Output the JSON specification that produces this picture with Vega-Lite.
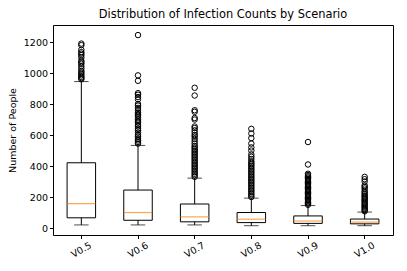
{
  "$schema": "https://vega.github.io/schema/vega-lite/v6.json",
  "autosize": {"type": "none"},
  "padding": {"left": 53, "top": 25, "right": 14, "bottom": 36},
  "width": 340,
  "height": 210,
  "title": {"text": "Distribution of Infection Counts by Scenario", "font": "DejaVu Sans", "fontSize": 11.4, "fontWeight": "normal", "color": "black", "offset": 5},
  "config": {
    "view": {"stroke": "black", "strokeWidth": 1},
    "axis": {"labelFont": "DejaVu Sans", "titleFont": "DejaVu Sans", "labelFontSize": 9.5, "titleFontSize": 9.5, "titleFontWeight": "normal", "labelColor": "black", "titleColor": "black", "domainColor": "black", "tickColor": "black", "tickSize": 3.5, "grid": false, "labelOverlap": false}
  },
  "datasets": {
    "boxes": [
      {"scenario": "V0.5", "low": 20, "q1": 66, "median": 157, "q3": 421, "high": 945},
      {"scenario": "V0.6", "low": 20, "q1": 50, "median": 100, "q3": 245, "high": 533},
      {"scenario": "V0.7", "low": 20, "q1": 40, "median": 72, "q3": 155, "high": 322},
      {"scenario": "V0.8", "low": 15, "q1": 35, "median": 57, "q3": 100, "high": 193},
      {"scenario": "V0.9", "low": 15, "q1": 30, "median": 45, "q3": 78, "high": 145},
      {"scenario": "V1.0", "low": 15, "q1": 27, "median": 38, "q3": 58, "high": 103}
    ],
    "outliers": [
      {"scenario": "V0.5", "value": 960}, {"scenario": "V0.5", "value": 968}, {"scenario": "V0.5", "value": 975}, {"scenario": "V0.5", "value": 985}, {"scenario": "V0.5", "value": 995}, {"scenario": "V0.5", "value": 1005}, {"scenario": "V0.5", "value": 1015}, {"scenario": "V0.5", "value": 1030}, {"scenario": "V0.5", "value": 1045}, {"scenario": "V0.5", "value": 1060}, {"scenario": "V0.5", "value": 1070}, {"scenario": "V0.5", "value": 1080}, {"scenario": "V0.5", "value": 1100}, {"scenario": "V0.5", "value": 1115}, {"scenario": "V0.5", "value": 1125}, {"scenario": "V0.5", "value": 1135}, {"scenario": "V0.5", "value": 1150}, {"scenario": "V0.5", "value": 1180}, {"scenario": "V0.5", "value": 1190},
      {"scenario": "V0.6", "value": 545}, {"scenario": "V0.6", "value": 555}, {"scenario": "V0.6", "value": 565}, {"scenario": "V0.6", "value": 575}, {"scenario": "V0.6", "value": 590}, {"scenario": "V0.6", "value": 600}, {"scenario": "V0.6", "value": 615}, {"scenario": "V0.6", "value": 630}, {"scenario": "V0.6", "value": 640}, {"scenario": "V0.6", "value": 655}, {"scenario": "V0.6", "value": 665}, {"scenario": "V0.6", "value": 680}, {"scenario": "V0.6", "value": 690}, {"scenario": "V0.6", "value": 700}, {"scenario": "V0.6", "value": 715}, {"scenario": "V0.6", "value": 725}, {"scenario": "V0.6", "value": 735}, {"scenario": "V0.6", "value": 745}, {"scenario": "V0.6", "value": 760}, {"scenario": "V0.6", "value": 775}, {"scenario": "V0.6", "value": 790}, {"scenario": "V0.6", "value": 800}, {"scenario": "V0.6", "value": 830}, {"scenario": "V0.6", "value": 845}, {"scenario": "V0.6", "value": 860}, {"scenario": "V0.6", "value": 870}, {"scenario": "V0.6", "value": 950}, {"scenario": "V0.6", "value": 985}, {"scenario": "V0.6", "value": 1245},
      {"scenario": "V0.7", "value": 330}, {"scenario": "V0.7", "value": 340}, {"scenario": "V0.7", "value": 350}, {"scenario": "V0.7", "value": 360}, {"scenario": "V0.7", "value": 370}, {"scenario": "V0.7", "value": 380}, {"scenario": "V0.7", "value": 390}, {"scenario": "V0.7", "value": 400}, {"scenario": "V0.7", "value": 410}, {"scenario": "V0.7", "value": 420}, {"scenario": "V0.7", "value": 430}, {"scenario": "V0.7", "value": 440}, {"scenario": "V0.7", "value": 450}, {"scenario": "V0.7", "value": 460}, {"scenario": "V0.7", "value": 470}, {"scenario": "V0.7", "value": 480}, {"scenario": "V0.7", "value": 490}, {"scenario": "V0.7", "value": 500}, {"scenario": "V0.7", "value": 510}, {"scenario": "V0.7", "value": 520}, {"scenario": "V0.7", "value": 530}, {"scenario": "V0.7", "value": 545}, {"scenario": "V0.7", "value": 560}, {"scenario": "V0.7", "value": 575}, {"scenario": "V0.7", "value": 590}, {"scenario": "V0.7", "value": 600}, {"scenario": "V0.7", "value": 615}, {"scenario": "V0.7", "value": 630}, {"scenario": "V0.7", "value": 645}, {"scenario": "V0.7", "value": 655}, {"scenario": "V0.7", "value": 700}, {"scenario": "V0.7", "value": 710}, {"scenario": "V0.7", "value": 750}, {"scenario": "V0.7", "value": 760}, {"scenario": "V0.7", "value": 855}, {"scenario": "V0.7", "value": 905},
      {"scenario": "V0.8", "value": 200}, {"scenario": "V0.8", "value": 210}, {"scenario": "V0.8", "value": 220}, {"scenario": "V0.8", "value": 230}, {"scenario": "V0.8", "value": 240}, {"scenario": "V0.8", "value": 250}, {"scenario": "V0.8", "value": 260}, {"scenario": "V0.8", "value": 270}, {"scenario": "V0.8", "value": 280}, {"scenario": "V0.8", "value": 290}, {"scenario": "V0.8", "value": 300}, {"scenario": "V0.8", "value": 310}, {"scenario": "V0.8", "value": 320}, {"scenario": "V0.8", "value": 330}, {"scenario": "V0.8", "value": 340}, {"scenario": "V0.8", "value": 350}, {"scenario": "V0.8", "value": 360}, {"scenario": "V0.8", "value": 370}, {"scenario": "V0.8", "value": 380}, {"scenario": "V0.8", "value": 390}, {"scenario": "V0.8", "value": 400}, {"scenario": "V0.8", "value": 410}, {"scenario": "V0.8", "value": 420}, {"scenario": "V0.8", "value": 430}, {"scenario": "V0.8", "value": 445}, {"scenario": "V0.8", "value": 460}, {"scenario": "V0.8", "value": 475}, {"scenario": "V0.8", "value": 500}, {"scenario": "V0.8", "value": 520}, {"scenario": "V0.8", "value": 545}, {"scenario": "V0.8", "value": 580}, {"scenario": "V0.8", "value": 610}, {"scenario": "V0.8", "value": 640},
      {"scenario": "V0.9", "value": 150}, {"scenario": "V0.9", "value": 158}, {"scenario": "V0.9", "value": 166}, {"scenario": "V0.9", "value": 174}, {"scenario": "V0.9", "value": 182}, {"scenario": "V0.9", "value": 190}, {"scenario": "V0.9", "value": 198}, {"scenario": "V0.9", "value": 206}, {"scenario": "V0.9", "value": 214}, {"scenario": "V0.9", "value": 222}, {"scenario": "V0.9", "value": 230}, {"scenario": "V0.9", "value": 238}, {"scenario": "V0.9", "value": 246}, {"scenario": "V0.9", "value": 254}, {"scenario": "V0.9", "value": 262}, {"scenario": "V0.9", "value": 270}, {"scenario": "V0.9", "value": 278}, {"scenario": "V0.9", "value": 286}, {"scenario": "V0.9", "value": 294}, {"scenario": "V0.9", "value": 302}, {"scenario": "V0.9", "value": 310}, {"scenario": "V0.9", "value": 318}, {"scenario": "V0.9", "value": 326}, {"scenario": "V0.9", "value": 334}, {"scenario": "V0.9", "value": 342}, {"scenario": "V0.9", "value": 350}, {"scenario": "V0.9", "value": 410}, {"scenario": "V0.9", "value": 555},
      {"scenario": "V1.0", "value": 108}, {"scenario": "V1.0", "value": 115}, {"scenario": "V1.0", "value": 122}, {"scenario": "V1.0", "value": 130}, {"scenario": "V1.0", "value": 138}, {"scenario": "V1.0", "value": 146}, {"scenario": "V1.0", "value": 154}, {"scenario": "V1.0", "value": 162}, {"scenario": "V1.0", "value": 170}, {"scenario": "V1.0", "value": 178}, {"scenario": "V1.0", "value": 186}, {"scenario": "V1.0", "value": 194}, {"scenario": "V1.0", "value": 202}, {"scenario": "V1.0", "value": 210}, {"scenario": "V1.0", "value": 220}, {"scenario": "V1.0", "value": 230}, {"scenario": "V1.0", "value": 240}, {"scenario": "V1.0", "value": 255}, {"scenario": "V1.0", "value": 265}, {"scenario": "V1.0", "value": 275}, {"scenario": "V1.0", "value": 300}, {"scenario": "V1.0", "value": 315}, {"scenario": "V1.0", "value": 330}
    ]
  },
  "encoding": {
    "x": {"field": "scenario", "type": "nominal", "sort": null,
      "scale": {"type": "band", "paddingInner": 0, "paddingOuter": 0},
      "axis": {"title": null, "labelAngle": -30, "labelAlign": "center", "labelBaseline": "middle", "labelPadding": 11, "domain": false}}
  },
  "resolve": {"axis": {"y": "shared"}},
  "layer": [
    {
      "data": {"name": "boxes"},
      "mark": {"type": "rule", "color": "black", "strokeWidth": 1},
      "encoding": {
        "y": {"field": "low", "type": "quantitative", "scale": {"domain": [-45, 1310], "nice": false, "zero": false},
          "axis": {"title": "Number of People", "values": [0, 200, 400, 600, 800, 1000, 1200], "format": "d", "domain": false, "titlePadding": 6, "labelOverlap": false, "tickCount": 7}},
        "y2": {"field": "high"}
      }
    },
    {
      "data": {"name": "boxes"},
      "mark": {"type": "bar", "size": 28.5, "fill": "white", "stroke": "black", "strokeWidth": 1},
      "encoding": {
        "y": {"field": "q1", "type": "quantitative", "axis": {"values": [0, 200, 400, 600, 800, 1000, 1200], "labelOverlap": false}},
        "y2": {"field": "q3"}
      }
    },
    {
      "data": {"name": "boxes"},
      "mark": {"type": "tick", "size": 14.5, "color": "black", "thickness": 1},
      "encoding": {"y": {"field": "low", "type": "quantitative", "axis": {"values": [0, 200, 400, 600, 800, 1000, 1200], "labelOverlap": false}}}
    },
    {
      "data": {"name": "boxes"},
      "mark": {"type": "tick", "size": 14.5, "color": "black", "thickness": 1},
      "encoding": {"y": {"field": "high", "type": "quantitative", "axis": {"values": [0, 200, 400, 600, 800, 1000, 1200], "labelOverlap": false}}}
    },
    {
      "data": {"name": "boxes"},
      "mark": {"type": "tick", "size": 28.5, "color": "#ff7f0e", "thickness": 1.2},
      "encoding": {"y": {"field": "median", "type": "quantitative", "axis": {"values": [0, 200, 400, 600, 800, 1000, 1200], "labelOverlap": false}}}
    },
    {
      "data": {"name": "outliers"},
      "mark": {"type": "point", "shape": "circle", "filled": false, "size": 30, "stroke": "black", "strokeWidth": 1, "opacity": 1},
      "encoding": {"y": {"field": "value", "type": "quantitative", "axis": {"values": [0, 200, 400, 600, 800, 1000, 1200], "labelOverlap": false}}}
    }
  ]
}
